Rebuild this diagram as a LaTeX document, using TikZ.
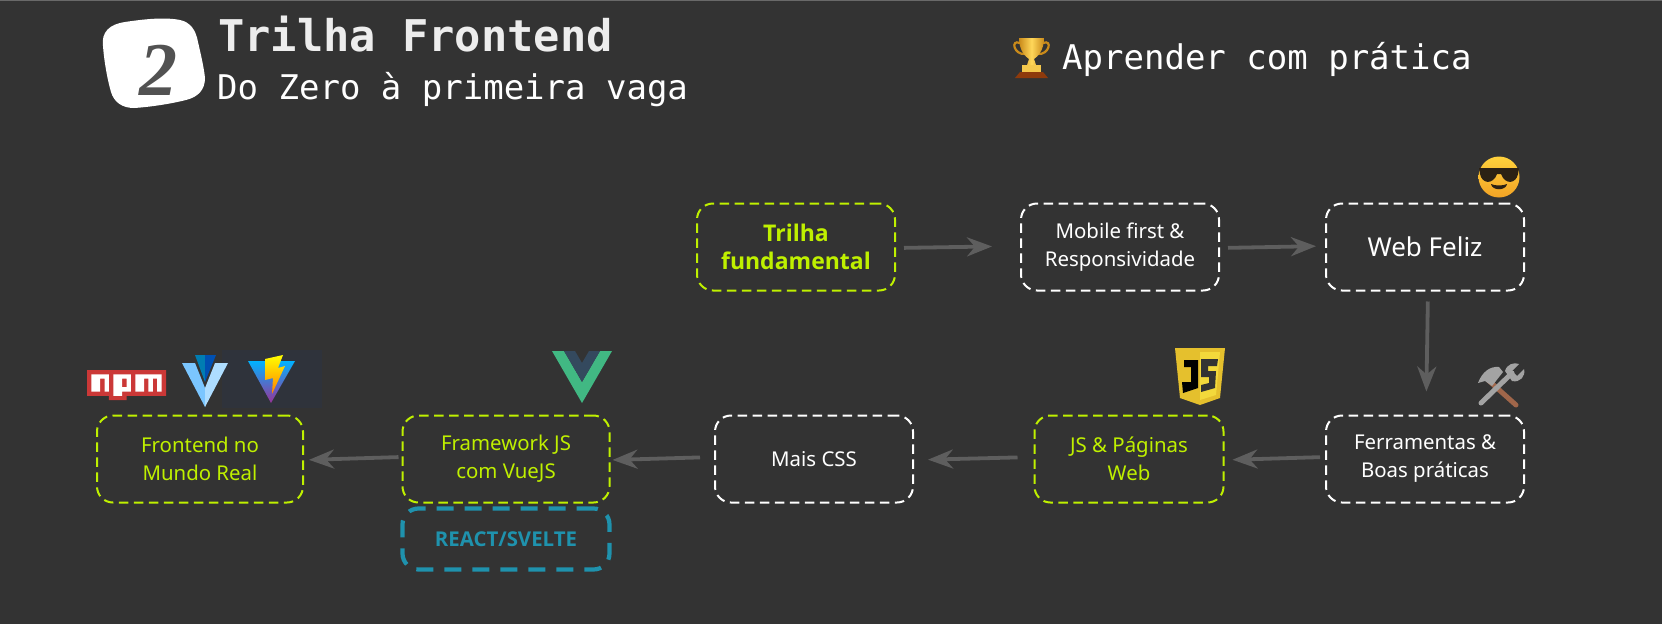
\documentclass[tikz,border=0pt]{standalone}
\usepackage{fontspec}
\setmainfont{Noto Sans}
\newfontfamily\boldbody{Open Sans}
\newfontfamily\titlefont{DejaVu Sans Mono}
\newfontfamily\badgefont{Liberation Serif}
\usetikzlibrary{arrows.meta,positioning,shapes.geometric}
\definecolor{bgdark}{HTML}{333333}
\definecolor{limeline}{HTML}{BFF000}
\definecolor{reactblue}{HTML}{1F92AD}
\definecolor{arrowgrey}{HTML}{5E5E5E}
\definecolor{npmred}{HTML}{CB3837}
\definecolor{vuegreen}{HTML}{41B883}
\definecolor{vuedark}{HTML}{34495E}
\definecolor{jsyellow}{HTML}{E5C02D}
\definecolor{jslight}{HTML}{F3D93B}
\definecolor{vitepatch}{HTML}{2F333B}
\definecolor{goldlight}{HTML}{FFD75A}
\definecolor{golddark}{HTML}{C98A1A}
\definecolor{trophybase}{HTML}{8E3A0C}
\definecolor{faceyellow}{HTML}{FFD23C}
\definecolor{faceorange}{HTML}{F2A325}
\definecolor{shadesdark}{HTML}{2B2114}
\definecolor{handlebrown}{HTML}{A0664A}
\definecolor{steelgrey}{HTML}{A3A3A3}
\definecolor{vtflight}{HTML}{AEDDFF}
\definecolor{vtfmid}{HTML}{7BC6FF}
\tikzset{
  card/.style={draw=white,rounded corners=16pt,dashed,dash pattern=on 9.5pt off 5.5pt,line width=2pt,
    minimum width=198pt,minimum height=87pt,align=center,text=white,font=\fontsize{20.4}{28}\selectfont,inner sep=0pt},
  limecard/.style={card,draw=limeline,text=limeline},
  flow/.style={-{Stealth[length=25pt,width=19pt,inset=8pt]},draw=arrowgrey,line width=3.8pt,shorten <=8pt,shorten >=28pt}
}
\begin{document}
\begin{tikzpicture}[x=1pt,y=-1pt,node distance=305pt,on grid]
\fill[bgdark] (0,0) rectangle (1662,624);
\useasboundingbox (0,0) rectangle (1662,624);
\fill[gray!70!bgdark] (0,0) rectangle (1662,1);
% badge and titles
\fill[white] (103,46) .. controls (101,32) and (110,24) .. (125,22) .. controls (145,19) and (165,17) .. (180,20) .. controls (190,22) and (196,30) .. (198,42) .. controls (201,55) and (204,68) .. (205,78) .. controls (205,90) and (198,97) .. (186,100) .. controls (170,104) and (150,107) .. (134,108) .. controls (122,108) and (114,102) .. (111,92) .. controls (107,78) and (104,60) .. (103,46) -- cycle;
\node (badge) at (158,70) {\badgefont\fontsize{76}{76}\selectfont\bfseries\itshape\textcolor{bgdark!85!white}{2}};
\node[anchor=west,inner sep=0pt,text=white!93!black] (title) at (218,34) {\titlefont\fontsize{43.7}{44}\selectfont\bfseries Trilha Frontend};
\node[anchor=west,inner sep=0pt,text=white] (subtitle) at (217,90) {\titlefont\fontsize{34}{34}\selectfont Do Zero à primeira vaga};
\node[anchor=west,inner sep=0pt,text=white] (goal) at (1062,59) {\titlefont\fontsize{34}{34}\selectfont Aprender com prática};
% cards
\node[limecard,font=\fontsize{23}{28}\selectfont\boldbody\bfseries] (fund) at (796,247) {Trilha\\fundamental};
\node[card] (mobile) at (1120,247) {Mobile first \&\\Responsividade};
\node[card,font=\fontsize{26}{30}\selectfont] (webfeliz) [right =of mobile] {Web Feliz};
\node[card] (tools) at (1425,459) {Ferramentas \&\\Boas práticas};
\node[limecard,minimum width=189pt] (jspages) at (1129,459) {JS \& Páginas\\Web};
\node[card] (maiscss) at (814,459) {Mais CSS};
\node[limecard,minimum width=207pt] (vueframe) at (506,459) {Framework JS\\com VueJS};
\node[limecard,minimum width=206pt] (mundo) at (200,459) {Frontend no\\Mundo Real};
\node[card,draw=reactblue,text=reactblue,line width=4.2pt,dash pattern=on 17pt off 11pt,minimum width=207pt,minimum height=61pt,font=\fontsize{20.4}{24}\selectfont\boldbody\bfseries] (react) at (506,539) {REACT/SVELTE};
% arrows
\path ([yshift=-1pt]fund.east) edge[flow,shorten >=28pt] ([yshift=1pt]mobile.west)
      ([yshift=-1pt]mobile.east) edge[flow,shorten >=9pt] ([yshift=1pt]webfeliz.west)
      ([xshift=3pt]webfeliz.south) edge[flow,shorten <=10pt,shorten >=23pt] ([xshift=1pt]tools.north)
      ([yshift=2pt]tools.west) edge[flow,shorten <=5pt,shorten >=8pt] ([yshift=-1pt]jspages.east)
      ([yshift=2pt]jspages.west) edge[flow,shorten <=16pt,shorten >=14pt] ([yshift=-1pt]maiscss.east)
      ([yshift=2pt]maiscss.west) edge[flow,shorten <=14pt,shorten >=2pt] ([yshift=-1pt]vueframe.east)
      ([yshift=2pt]vueframe.west) edge[flow,shorten <=3pt,shorten >=5pt] ([yshift=-1pt]mundo.east);
% trophy
\begin{scope}[shift={(3,1)}]
\fill[trophybase] (1017,71) -- (1040,71) -- (1045,77) -- (1012,77) -- cycle;
\fill[goldlight!80!golddark] (1019,64) rectangle (1038,71);
\draw[golddark,line width=2.2pt] (1017,42) .. controls (1007,38) and (1011,54) .. (1022,53);
\draw[golddark,line width=2.2pt] (1040,42) .. controls (1050,38) and (1046,54) .. (1035,53);
\shade[left color=golddark,right color=golddark,middle color=goldlight] (1016,37) -- (1041,37) .. controls (1041,50) and (1034,56) .. (1031,58) -- (1033,64) -- (1024,64) -- (1026,58) .. controls (1023,56) and (1016,50) .. (1016,37) -- cycle;
\end{scope}
% sunglasses face
\shade[top color=faceyellow,bottom color=faceorange] (1499,177) circle (20.5);
\fill[shadesdark] (1479,168) -- (1519,168) -- (1518,174) .. controls (1516,184) and (1505,185) .. (1501,174) -- (1497,174) .. controls (1493,185) and (1482,184) .. (1480,174) -- cycle;
\fill[shadesdark] (1491,184) .. controls (1495,186) and (1503,186) .. (1507,184) .. controls (1506,191) and (1492,191) .. (1491,184) -- cycle;
% tools
\draw[handlebrown,line width=5pt,line cap=round] (1488,380) -- (1516,405);
\fill[steelgrey] (1478,383) .. controls (1482,372) and (1490,366) .. (1499,367) -- (1503,372) -- (1492,386) -- (1485,381) -- cycle;
\draw[steelgrey,line width=5pt,line cap=round] (1481,403) -- (1512,373);
\fill[steelgrey] (1505,371) .. controls (1507,364) and (1514,362) .. (1519,364) -- (1512,371) -- (1517,376) -- (1524,369) .. controls (1526,376) and (1520,383) .. (1512,381) -- cycle;
% vite
\fill[vitepatch] (222,350) rectangle (322,408);
\shade[top color=cyan!70!blue,bottom color=violet!80!white] (248,361) -- (295,361) -- (271,403) -- cycle;
\shade[top color=yellow,bottom color=orange] (265,359) -- (283,355) -- (278,368) -- (285,366) -- (272,394) -- (273,378) -- (265,380) -- cycle;
% npm
\begin{scope}[shift={(87,370)},x=4.39pt,y=-4.3pt]
\fill[npmred] (0,0) -- (18,0) -- (18,6) -- (9,6) -- (9,7) -- (5,7) -- (5,6) -- (0,6) -- cycle;
\fill[white] (1,1) -- (1,5) -- (3,5) -- (3,2) -- (4,2) -- (4,5) -- (5,5) -- (5,1) -- cycle;
\fill[white,even odd rule] (6,1) -- (6,6) -- (8,6) -- (8,5) -- (10,5) -- (10,1) -- cycle (8,2) rectangle (9,4);
\fill[white] (11,1) -- (11,5) -- (13,5) -- (13,2) -- (14,2) -- (14,5) -- (15,5) -- (15,2) -- (16,2) -- (16,5) -- (17,5) -- (17,1) -- cycle;
\end{scope}
% vuetify
\fill[vtfmid] (182,363) -- (195,363) -- (205,388) -- (205,407) -- cycle;
\fill[vtflight] (228,363) -- (215,363) -- (205,388) -- (205,407) -- cycle;
\fill[blue!30!cyan!70!black] (195,355) -- (205,355) -- (205,382) -- cycle;
\fill[blue!55!cyan!70!black] (205,355) -- (216,355) -- (205,382) -- cycle;
% vue
\fill[vuegreen] (552,351) -- (564,351) -- (582,382) -- (600,351) -- (612,351) -- (582,403) -- cycle;
\fill[vuedark] (564,351) -- (575,351) -- (582,363) -- (589,351) -- (600,351) -- (582,382) -- cycle;
% js shield
\fill[jsyellow] (1175,348) -- (1225,348) -- (1220,398) -- (1200,405) -- (1180,398) -- cycle;
\fill[jslight] (1200,352) -- (1220,352) -- (1216,395) -- (1200,400) -- cycle;
\fill[black] (1184,360) -- (1198,360) -- (1198,388) -- (1183,393) -- (1182,382) -- (1191,382) -- (1191,367) -- (1184,367) -- cycle;
\fill[bgdark] (1201,359) -- (1218,359) -- (1217,366) -- (1208,366) -- (1208,371) -- (1216,371) -- (1215,388) -- (1201,392) -- (1201,385) -- (1209,383) -- (1209,377) -- (1201,377) -- cycle;
\end{tikzpicture}
\end{document}
